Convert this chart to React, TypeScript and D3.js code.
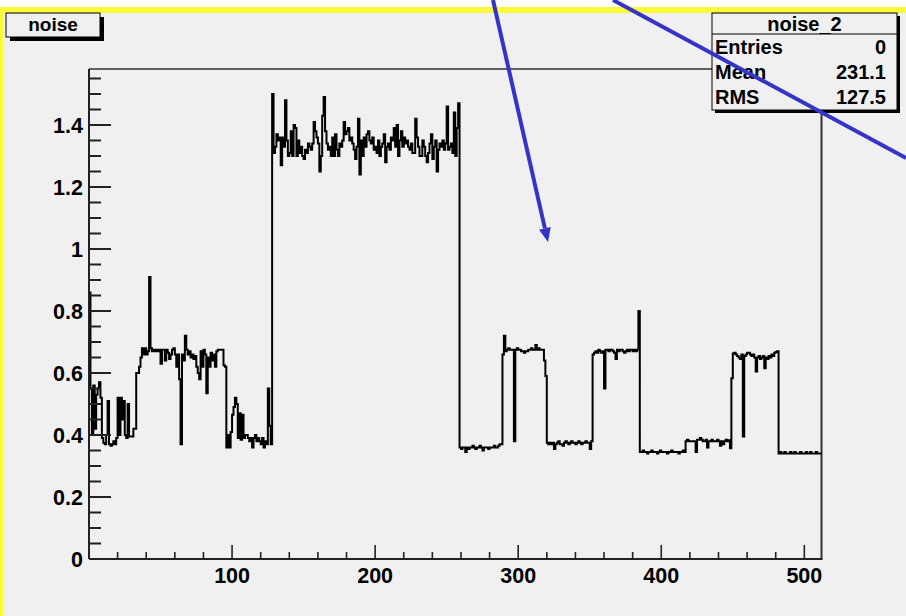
import React from 'react';
import * as d3 from 'd3';

// ---- data (bin contents of histogram "noise", 512 bins from 0 to 512) ----
const seg1 = [0.86,0.55,0.40,0.56,0.42,0.53,0.55,0.57,0.52,0.39,0.375,0.37,0.40,0.51,0.37,0.365,0.37,0.38,0.37,0.39,0.52,0.40,0.52,0.45,0.51,0.40,0.39,0.50,0.395,0.395,0.395,0.42,0.42,0.60,0.60,0.62,0.65,0.68];
const seg2 = [0.66,0.68,0.66,0.67,0.91,0.68,0.67,0.675,0.67,0.675,0.67,0.675,0.63,0.675,0.675,0.64,0.675,0.665,0.645,0.66,0.675,0.68,0.66,0.62,0.66,0.58,0.37,0.66,0.64,0.72,0.675,0.66,0.67,0.65,0.66,0.645,0.655,0.62,0.60,0.58,0.67,0.62,0.675,0.66,0.535,0.65,0.62,0.665,0.64,0.66,0.62,0.67,0.675,0.675,0.675,0.675,0.625,0.62];
const seg3 = [0.36,0.40,0.36,0.41,0.465,0.49,0.52,0.50,0.39,0.47,0.385,0.465,0.39,0.40,0.40,0.39,0.38,0.39,0.36,0.39,0.40,0.38,0.39,0.38,0.37,0.39,0.36,0.38,0.37,0.55,0.43,0.37];
const seg4 = [1.50,1.31,1.33,1.37,1.35,1.36,1.27,1.36,1.33,1.48,
  1.35,1.30,1.31,1.38,1.30,1.40,1.39,1.30,1.35,1.31,
  1.33,1.30,1.29,1.32,1.31,1.34,1.33,1.32,1.34,1.41,
  1.38,1.36,1.34,1.25,1.30,1.43,1.49,1.38,1.34,1.32,
  1.33,1.30,1.36,1.30,1.37,1.32,1.30,1.34,1.33,1.35,
  1.41,1.37,1.38,1.39,1.35,1.36,1.34,1.32,1.29,1.33,
  1.42,1.24,1.35,1.30,1.36,1.33,1.37,1.38,1.35,1.34,
  1.36,1.32,1.33,1.31,1.35,1.30,1.33,1.34,1.37,1.28,
  1.33,1.34,1.32,1.36,1.35,1.39,1.33,1.40,1.30,1.35,
  1.38,1.33,1.36,1.34,1.35,1.33,1.32,1.34,1.31,1.31,
  1.42,1.36,1.33,1.30,1.30,1.35,1.33,1.30,1.28,1.31,
  1.34,1.37,1.29,1.33,1.35,1.25,1.32,1.34,1.33,1.35,
  1.32,1.34,1.46,1.32,1.33,1.34,1.31,1.44,1.30,1.39,
  1.47];
const seg5 = [0.36,0.355,0.36,0.36,0.345,0.36,0.355,0.36,0.36,0.365,0.36,0.355,0.36,0.36,0.365,0.36,0.35,0.36,0.36,0.36,0.355,0.36,0.36,0.36,0.365,0.36,0.36,0.365,0.37,0.37];
const seg6 = [0.66,0.72,0.67,0.675,0.68,0.675,0.675,0.675,0.38,0.675,0.68,0.675,0.675,0.67,0.67,0.665,0.67,0.67,0.675,0.675,0.68,0.675,0.675,0.69,0.675,0.68,0.675,0.675,0.675,0.64,0.59];
const seg7 = [0.375,0.37,0.375,0.37,0.375,0.355,0.37,0.375,0.38,0.37,0.37,0.365,0.375,0.38,0.375,0.37,0.375,0.38,0.375,0.375,0.37,0.375,0.38,0.375,0.37,0.375,0.375,0.38,0.375,0.375,0.355,0.38];
const seg8 = [0.66,0.665,0.67,0.665,0.675,0.67,0.665,0.67,0.55,0.675,0.675,0.67,0.675,0.675,0.67,0.665,0.645,0.675,0.67,0.675,0.675,0.67,0.665,0.67,0.675,0.67,0.675,0.675,0.67,0.675,0.67,0.675,0.80];
const seg9 = [0.345,0.345,0.35,0.345,0.345,0.34,0.345,0.345,0.35,0.345,0.345,0.345,0.34,0.345,0.35,0.345,0.345,0.345,0.345,0.34,0.345,0.345,0.35,0.345,0.345,0.345,0.345,0.34,0.345,0.345,0.35,0.345];
const seg10 = [0.38,0.385,0.38,0.38,0.38,0.38,0.38,0.345,0.385,0.385,0.39,0.385,0.38,0.38,0.385,0.36,0.38,0.38,0.385,0.38,0.38,0.38,0.385,0.38,0.365,0.38,0.37,0.38,0.385,0.38,0.383,0.357];
const seg11 = [0.583,0.663,0.665,0.66,0.655,0.65,0.645,0.66,0.395,0.655,0.66,0.665,0.665,0.66,0.655,0.66,0.65,0.605,0.65,0.655,0.645,0.65,0.655,0.615,0.65,0.645,0.655,0.65,0.66,0.655,0.665,0.668,0.67];
const seg12 = [0.34,0.345,0.34,0.34,0.345,0.34,0.34,0.34,0.345,0.34,0.34,0.345,0.34,0.34,0.34,0.345,0.34,0.34,0.34,0.345,0.34,0.34,0.345,0.34,0.34,0.34,0.345,0.34,0.34,0.34];

const binValues = [...seg1, ...seg2, ...seg3, ...seg4, ...seg5, ...seg6, ...seg7, ...seg8, ...seg9, ...seg10, ...seg11, ...seg12];

const xMajorTicks = [100, 200, 300, 400, 500];
const xMinorTicks = [20, 40, 60, 80, 120, 140, 160, 180, 220, 240, 260, 280, 320, 340, 360, 380, 420, 440, 460, 480];
const yMajorTicks = [0, 0.2, 0.4, 0.6, 0.8, 1, 1.2, 1.4];
const yMinorTicks = [0.05, 0.1, 0.15, 0.25, 0.3, 0.35, 0.45, 0.5, 0.55, 0.65, 0.7, 0.75, 0.85, 0.9, 0.95, 1.05, 1.1, 1.15, 1.25, 1.3, 1.35, 1.45, 1.5, 1.55];

const histTitle = 'noise';
const statsTitle = 'noise_2';
const statsLabels = ['Entries', 'Mean', 'RMS'];
const statsValues = ['0', '231.1', '127.5'];

const FONT = '"Liberation Sans", Arial, Helvetica, sans-serif';

export default function App() {
  const W = 906, H = 616;
  const yMax = 1.5806;
  const x = d3.scaleLinear().domain([0, 512]).range([89, 821.5]);
  const y = d3.scaleLinear().domain([0, yMax]).range([559, 69]);

  const pts: [number, number][] = [];
  binValues.forEach((v, i) => { pts.push([i, v]); pts.push([i + 1, v]); });
  const line = d3.line<[number, number]>().x(d => x(d[0])).y(d => y(d[1]));

  const bg = '#f0f0f0';
  const blue = '#3434c8';
  const axisCol = '#222';

  // arrow 1 geometry (annotation)
  const a1 = { x1: 493, y1: 0, x2: 548, y2: 242 };
  const dx = a1.x2 - a1.x1, dy = a1.y2 - a1.y1;
  const len = Math.hypot(dx, dy);
  const ux = dx / len, uy = dy / len;
  const hl = 14, hw = 6;
  const bx = a1.x2 - ux * hl, by = a1.y2 - uy * hl;
  const head = `${a1.x2},${a1.y2} ${bx - uy * hw},${by + ux * hw} ${bx + uy * hw},${by - ux * hw}`;

  const sb = { x0: 712, x1: 897, y0: 13, y1: 110 };

  return (
    <svg width={W} height={H} style={{ position: 'absolute', left: 0, top: 0, display: 'block' }} fontFamily={FONT}>
      <rect x={0} y={0} width={W} height={H} fill={bg} />
      <rect x={0} y={0} width={W} height={7} fill="#ffffff" />
      <rect x={0} y={7} width={W} height={6} fill="#fafa3a" />
      <rect x={0} y={7} width={3} height={H - 7} fill="#fafa3a" />

      {/* frame */}
      <line x1={x(0)} x2={x(512)} y1={y(yMax)} y2={y(yMax)} stroke="#333" strokeWidth={1.6} />
      <line x1={x(512)} x2={x(512)} y1={y(yMax)} y2={y(0)} stroke="#333" strokeWidth={2} />

      {/* histogram */}
      <path d={line(pts) || ''} fill="none" stroke="#000" strokeWidth={2} strokeLinejoin="miter" />

      {/* axes */}
      <line x1={x(0)} x2={x(0)} y1={y(yMax)} y2={y(0)} stroke={axisCol} strokeWidth={2} />
      <line x1={x(0)} x2={x(512) + 1} y1={y(0)} y2={y(0)} stroke={axisCol} strokeWidth={2} />
      {yMajorTicks.map(t => (
        <g key={'ym' + t}>
          <line x1={x(0)} x2={x(0) + 22} y1={y(t)} y2={y(t)} stroke={axisCol} strokeWidth={2} />
          <text x={x(0) - 6} y={y(t)} dy="0.36em" textAnchor="end" fontSize={21.5} fontWeight="bold" fill="#000">{String(t)}</text>
        </g>
      ))}
      {yMinorTicks.map(t => (
        <line key={'yn' + t} x1={x(0)} x2={x(0) + 12} y1={y(t)} y2={y(t)} stroke={axisCol} strokeWidth={2} />
      ))}
      {xMajorTicks.map(t => (
        <g key={'xm' + t}>
          <line x1={x(t)} x2={x(t)} y1={y(0)} y2={y(0) - 14} stroke={axisCol} strokeWidth={1.6} />
          <text x={x(t)} y={583} textAnchor="middle" fontSize={21.5} fontWeight="bold" fill="#000">{String(t)}</text>
        </g>
      ))}
      {xMinorTicks.map(t => (
        <line key={'xn' + t} x1={x(t)} x2={x(t)} y1={y(0)} y2={y(0) - 7} stroke={axisCol} strokeWidth={1.6} />
      ))}

      {/* title box */}
      <rect x={10} y={17} width={94} height={24} fill="#000" />
      <rect x={6} y={13} width={94} height={24} fill={bg} stroke="#000" strokeWidth={1} />
      <text x={53} y={31} textAnchor="middle" fontSize={19} fontWeight="bold" fill="#000">{histTitle}</text>

      {/* stats box */}
      <rect x={sb.x0 + 3} y={sb.y0 + 3} width={sb.x1 - sb.x0} height={sb.y1 - sb.y0} fill="#000" />
      <rect x={sb.x0} y={sb.y0} width={sb.x1 - sb.x0} height={sb.y1 - sb.y0} fill={bg} stroke="#000" strokeWidth={1} />
      <line x1={sb.x0} x2={sb.x1} y1={34} y2={34} stroke="#000" strokeWidth={1} />
      <text x={(sb.x0 + sb.x1) / 2} y={31} textAnchor="middle" fontSize={20} fontWeight="bold" fill="#000">{statsTitle}</text>
      {statsLabels.map((l, i) => (
        <g key={l}>
          <text x={sb.x0 + 3} y={54 + i * 25} fontSize={20} fontWeight="bold" fill="#000">{l}</text>
          <text x={sb.x1 - 11} y={54 + i * 25} textAnchor="end" fontSize={20} fontWeight="bold" fill="#000">{statsValues[i]}</text>
        </g>
      ))}

      {/* annotation arrows */}
      <line x1={a1.x1} y1={a1.y1} x2={bx} y2={by} stroke={blue} strokeWidth={4} />
      <polygon points={head} fill={blue} />
      <line x1={613} y1={0} x2={906} y2={158} stroke={blue} strokeWidth={4} />
    </svg>
  );
}
